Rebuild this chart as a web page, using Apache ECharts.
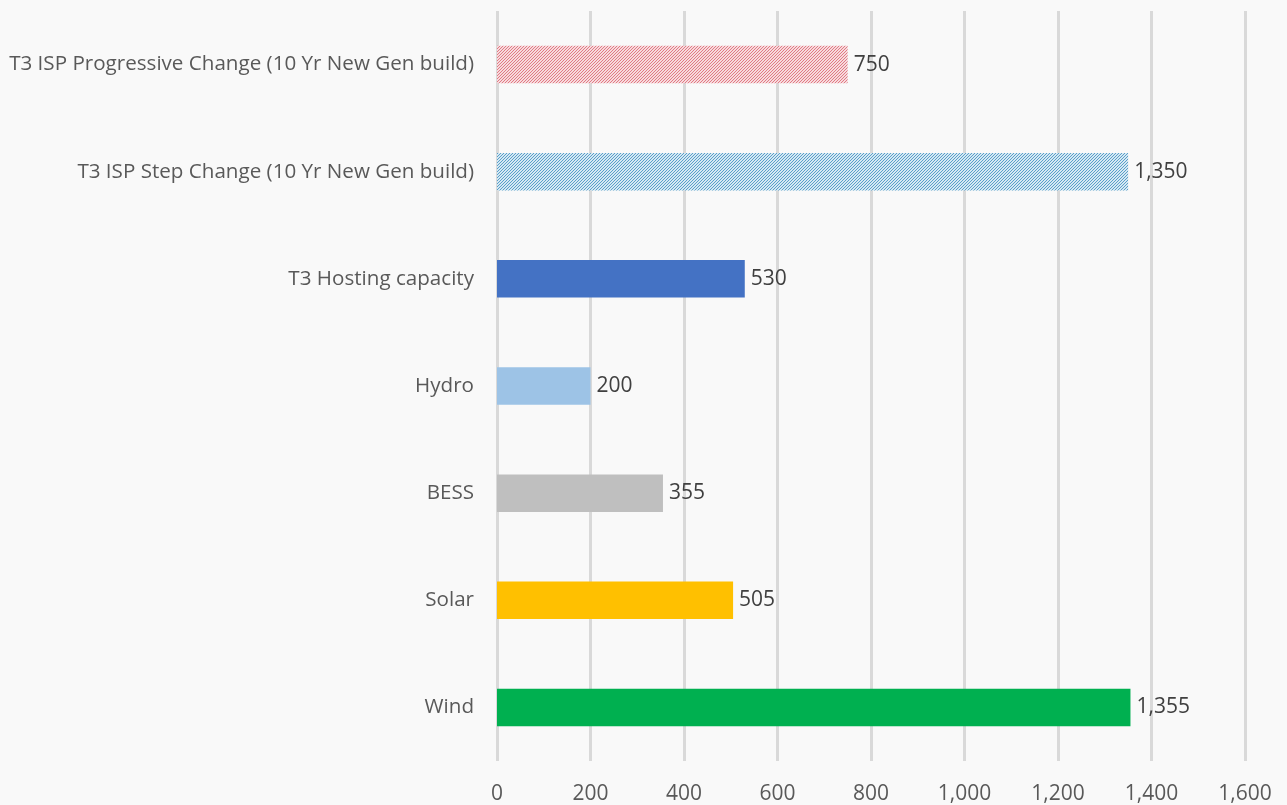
<!DOCTYPE html>
<html>
<head>
<meta charset="utf-8">
<script src="https://cdn.jsdelivr.net/npm/echarts@6/dist/echarts.min.js"></script>
<style>
html,body{margin:0;padding:0;background:#f9f9f9;}
#chart{width:1287px;height:805px;}
</style>
</head>
<body>
<div id="chart"></div>
<script>
const categories = [
  'T3 ISP Progressive Change (10 Yr New Gen build)',
  'T3 ISP Step Change (10 Yr New Gen build)',
  'T3 Hosting capacity',
  'Hydro',
  'BESS',
  'Solar',
  'Wind'
];
const values = [750, 1350, 530, 200, 355, 505, 1355];
const xTicks = [0, 200, 400, 600, 800, 1000, 1200, 1400, 1600];

// Fine diagonal hatch tile used for the ISP scenario bars
function hatch(line, back) {
  const c = document.createElement('canvas');
  c.width = 3; c.height = 3;
  const g = c.getContext('2d');
  g.fillStyle = back; g.fillRect(0, 0, 3, 3);
  g.strokeStyle = line; g.lineWidth = 1;
  g.beginPath();
  g.moveTo(-1, 4); g.lineTo(4, -1);
  g.moveTo(-1, 1); g.lineTo(1, -1);
  g.moveTo(2, 4); g.lineTo(4, 2);
  g.stroke();
  return { image: c, repeat: 'repeat' };
}

const fills = [
  hatch('#e07a84', '#f7dadd'),
  hatch('#5a9fc9', '#d5e8f3'),
  '#4472c4',
  '#9dc3e6',
  '#bfbfbf',
  '#ffc000',
  '#00b050'
];

const font = 'Open Sans';
const chart = echarts.init(document.getElementById('chart'));
chart.setOption({
  backgroundColor: '#f9f9f9',
  animation: false,
  grid: { left: 497, right: 42, top: 11, bottom: 43, containLabel: false },
  xAxis: {
    type: 'value',
    min: xTicks[0],
    max: xTicks[xTicks.length - 1],
    interval: 200,
    axisLine: { show: false },
    axisTick: { show: false },
    splitLine: { lineStyle: { color: '#d9d9d9', width: 3 } },
    axisLabel: {
      margin: 23,
      color: '#595959',
      fontSize: 21,
      fontFamily: font,
      formatter: v => v.toLocaleString('en-US')
    }
  },
  yAxis: {
    type: 'category',
    data: categories,
    inverse: true,
    axisLine: { show: false },
    axisTick: { show: false },
    axisLabel: {
      margin: 23,
      color: '#595959',
      fontSize: 20.6,
      fontFamily: font
    }
  },
  series: [{
    type: 'bar',
    barWidth: '35%',
    data: values.map((v, i) => ({ value: v, itemStyle: { color: fills[i] } })),
    label: {
      show: true,
      position: 'right',
      distance: 6,
      color: '#404040',
      fontSize: 21,
      fontFamily: font,
      formatter: p => p.value.toLocaleString('en-US')
    }
  }]
});
</script>
</body>
</html>
